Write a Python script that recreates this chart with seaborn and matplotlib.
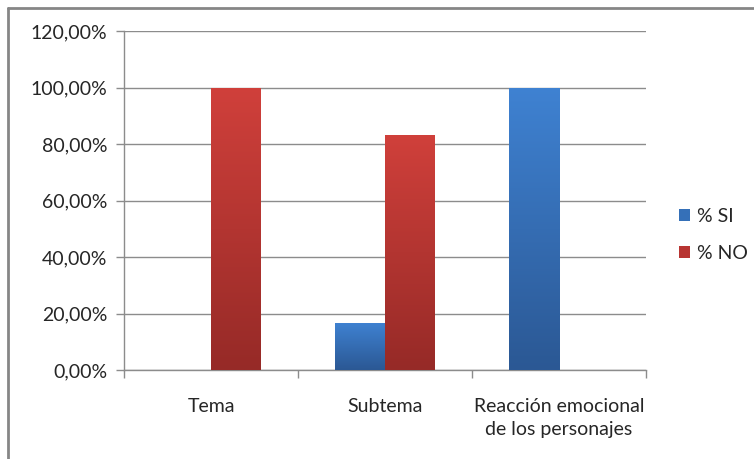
import numpy as np
import pandas as pd
import matplotlib
matplotlib.use("Agg")
import matplotlib.pyplot as plt
import matplotlib.colors as mcolors
from matplotlib.lines import Line2D
from matplotlib.patches import Patch
import seaborn as sns

categories = ["Tema", "Subtema", "Reacción emocional\nde los personajes"]
series = ["% SI", "% NO"]
si_values = [0.0, 16.67, 100.0]
no_values = [100.0, 83.33, 0.0]
y_ticks = [0, 20, 40, 60, 80, 100, 120]

df = pd.DataFrame({
    "categoria": categories * 2,
    "serie": [series[0]] * 3 + [series[1]] * 3,
    "valor": si_values + no_values,
})

sns.set_theme(style="white")
plt.rcParams["font.family"] = ["Lato", "DejaVu Sans"]

FS = 14
top_colors = {"% SI": "#3f82d2", "% NO": "#d0403b"}
bottom_colors = {"% SI": "#2b5894", "% NO": "#962a27"}
base_colors = {"% SI": "#3570b8", "% NO": "#b83532"}

fig = plt.figure(figsize=(7.54, 4.59), dpi=100)
ax = fig.add_axes([124 / 754, 1 - 370 / 459, (646 - 124) / 754, (370 - 31) / 459])

sns.barplot(data=df, x="categoria", y="valor", hue="serie", order=categories,
            hue_order=series, palette=base_colors, width=100 / 174,
            saturation=1, legend=False, ax=ax, zorder=3)

# Vertical gradient fill for each bar, clipped to the bar's outline
for container, name in zip(ax.containers, series):
    cmap = mcolors.LinearSegmentedColormap.from_list(
        name, [bottom_colors[name], top_colors[name]])
    for patch in container.patches:
        patch.set_edgecolor("none")
        patch.set_linewidth(0)
        x0, y0 = patch.get_x(), patch.get_y()
        w, h = patch.get_width(), patch.get_height()
        if h <= 0:
            patch.set_visible(False)
            continue
        grad = np.linspace(0, 1, 256).reshape(-1, 1)
        img = ax.imshow(grad, cmap=cmap, origin="lower", aspect="auto",
                        extent=[x0, x0 + w, y0, y0 + h], zorder=4)
        img.set_clip_path(patch)

ax.set_xlim(-0.5, 2.5)
ax.set_ylim(0, 120)
ax.set_yticks(y_ticks)
ax.set_yticklabels([f"{v:.2f}%".replace(".", ",") for v in y_ticks])
ax.yaxis.grid(True, color="#8c8c8c", linewidth=1.0, zorder=0)
ax.set_axisbelow(True)
ax.set_xlabel("")
ax.set_ylabel("")

for side in ["top", "right"]:
    ax.spines[side].set_visible(False)
for side in ["left", "bottom"]:
    ax.spines[side].set_color("#8c8c8c")
    ax.spines[side].set_linewidth(1.0)

ax.tick_params(axis="y", which="major", left=True, length=6, width=1.0,
               color="#8c8c8c", labelsize=FS, labelcolor="#262626", pad=6)
ax.tick_params(axis="x", which="major", bottom=False, labelsize=FS,
               labelcolor="#262626", pad=14)
ax.set_xticks(range(len(categories)))
ax.set_xticklabels(categories, linespacing=1.45)
ax.set_xticks([-0.5, 0.5, 1.5, 2.5], minor=True)
ax.tick_params(axis="x", which="minor", bottom=True, length=6, width=1.0,
               color="#8c8c8c")

handles = [Patch(facecolor=base_colors[s], edgecolor="none") for s in series]
leg = fig.legend(handles, series, loc="center left",
                 bbox_to_anchor=(679 / 754, 1 - 235 / 459), frameon=False,
                 fontsize=FS, handlelength=0.55, handleheight=0.55,
                 handletextpad=0.4, labelspacing=1.05, borderpad=0,
                 borderaxespad=0)
for t in leg.get_texts():
    t.set_color("#262626")

# Outer chart frame
fig.add_artist(Line2D([8 / 754, 8 / 754], [0, 1 - 8 / 459],
                      transform=fig.transFigure, color="#868686", linewidth=2))
fig.add_artist(Line2D([8 / 754, 1], [1 - 8 / 459, 1 - 8 / 459],
                      transform=fig.transFigure, color="#868686", linewidth=2))

fig.savefig("out.png", dpi=100)
